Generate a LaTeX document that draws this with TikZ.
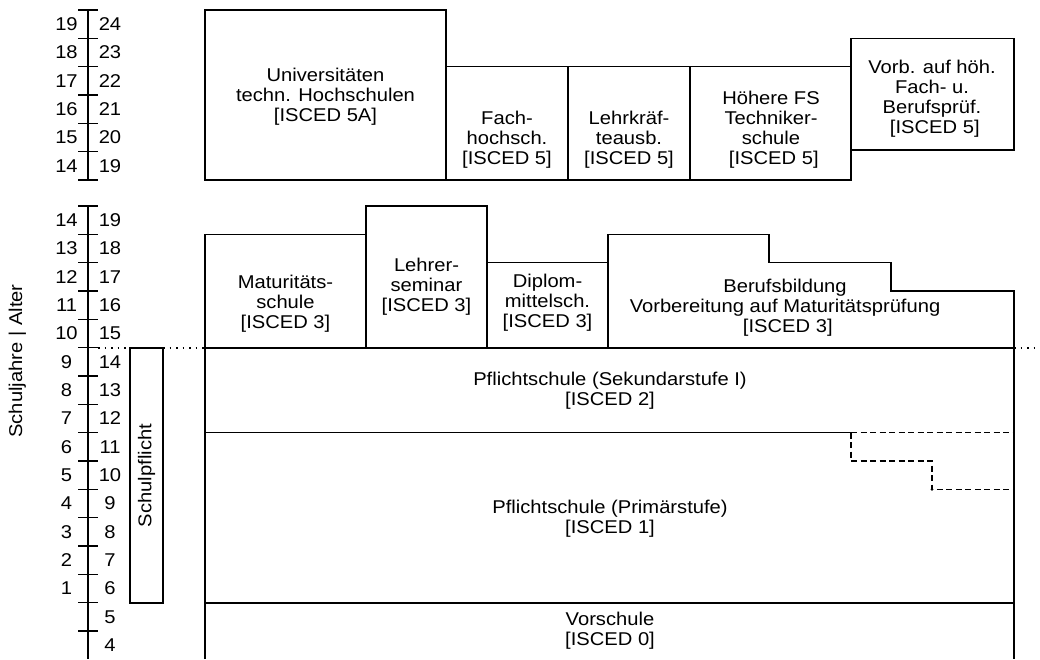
\documentclass[tikz,border=0pt]{standalone}
\usepackage{fontspec}
\setmainfont{Liberation Sans}[FakeStretch=1.09]
\begin{document}
\begin{tikzpicture}[x=1pt, y=-1pt, line width=1.3pt,
                    every node/.style={align=center, inner sep=0pt, font=\fontsize{18.5}{20}\selectfont},
                    dashline/.style={dash pattern=on 6pt off 3.5pt, line width=1.1pt},
                    dotline/.style={dash pattern=on 1.5pt off 5pt, line width=1.3pt}]
                    \useasboundingbox (0,0) rectangle (1040,659);

                    % Scale: Schuljahre | Alter
                    \node[rotate=90] (axlabel) at (17.5,361) {Schuljahre | Alter};
                    \draw (88,10) -- (88,180);
                    \foreach \k in {0,...,6} \draw (78,{10+\k*28.33}) -- (98,{10+\k*28.33});
                    \foreach \n in {14,...,19}{
                        \pgfmathtruncatemacro\age{\n+5}
                        \node (sjt\n) at (66.5,{24.2+(19-\n)*28.33}) {\n};
                        \node (alt\n) at (110,{24.2+(19-\n)*28.33}) {\age};
                    }
                    \draw (88,206) -- (88,659);
                    \foreach \k in {0,...,15} \draw (78,{206+\k*28.33}) -- (98,{206+\k*28.33});
                    \foreach \n in {1,...,14}
                        \node (sj\n) at (66.5,{220.2+(14-\n)*28.33}) {\n};
                    \foreach \n in {4,...,19}
                        \node (al\n) at (110,{220.2+(19-\n)*28.33}) {\n};

                    % Schulpflicht
                    \draw (130,348) rectangle (163,603);
                    \node[rotate=90] (pflicht) at (146.5,475.5) {Schulpflicht};
                    \draw[dotline] (98,348) -- (205,348);
                    \draw[dotline] (1014,348) -- (1040,348);

                    % Tertiaerstufe
                    \draw (205,10) rectangle (446,180);
                    \node (uni) at (325.5,97) {Universitäten\\techn. Hochschulen\\{[ISCED 5A]}};
                    \draw (446,66.7) rectangle (568,180);
                    \node (fh) at (507,140) {Fach-\\hochsch.\\{[ISCED 5]}};
                    \draw (568,66.7) rectangle (690,180);
                    \node (lka) at (629,140) {Lehrkräf-\\teausb.\\{[ISCED 5]}};
                    \draw (690,66.7) rectangle (851,180);
                    \node (hfs) at (771,130) {Höhere FS\\Techniker-\\schule\\{ [ISCED 5]}};
                    \draw (851,38.3) rectangle (1014,150);
                    \node (vhb) at (932,98.5) {Vorb. auf höh.\\Fach- u.\\Berufsprüf.\\{ [ISCED 5]}};

                    % Sekundarstufe II
                    \draw (205,234.3) rectangle (366,348);
                    \node (mat) at (285.5,303.5) {Maturitäts-\\schule\\{[ISCED 3]}};
                    \draw (366,206) rectangle (487,348);
                    \node (sem) at (426.5,287) {Lehrer-\\seminar\\{[ISCED 3]}};
                    \draw (487,262.7) rectangle (608,348);
                    \node (dms) at (547.5,303) {Diplom-\\mittelsch.\\{[ISCED 3]}};
                    \draw (608,348) -- (608,234.3) -- (769,234.3) -- (769,262.7) -- (891,262.7)
                          -- (891,291) -- (1014,291) -- (1014,348);
                    \node (bb) at (785,308) {Berufsbildung\\Vorbereitung auf Maturitätsprüfung\\{ [ISCED 3]}};

                    % Pflichtschule
                    \draw (205,348) rectangle (1014,603);
                    \node (sek) at (610,391) {Pflichtschule (Sekundarstufe I)\\{[ISCED 2]}};
                    \draw (205,432.7) -- (851,432.7);
                    \draw[dashline] (851,432.7) -- (1014,432.7);
                    \draw[dashline] (851,432.7) -- (851,461) -- (932,461) -- (932,489.3) -- (1014,489.3);
                    \fill (932,489.3) circle (1.5);
                    \node (prim) at (610,519) {Pflichtschule (Primärstufe)\\{[ISCED 1]}};

                    % Vorschule
                    \draw (205,659) -- (205,603);
                    \draw (1014,603) -- (1014,659);
                    \node (vor) at (610,631) {Vorschule\\{[ISCED 0]}};
                \end{tikzpicture}
\end{document}
